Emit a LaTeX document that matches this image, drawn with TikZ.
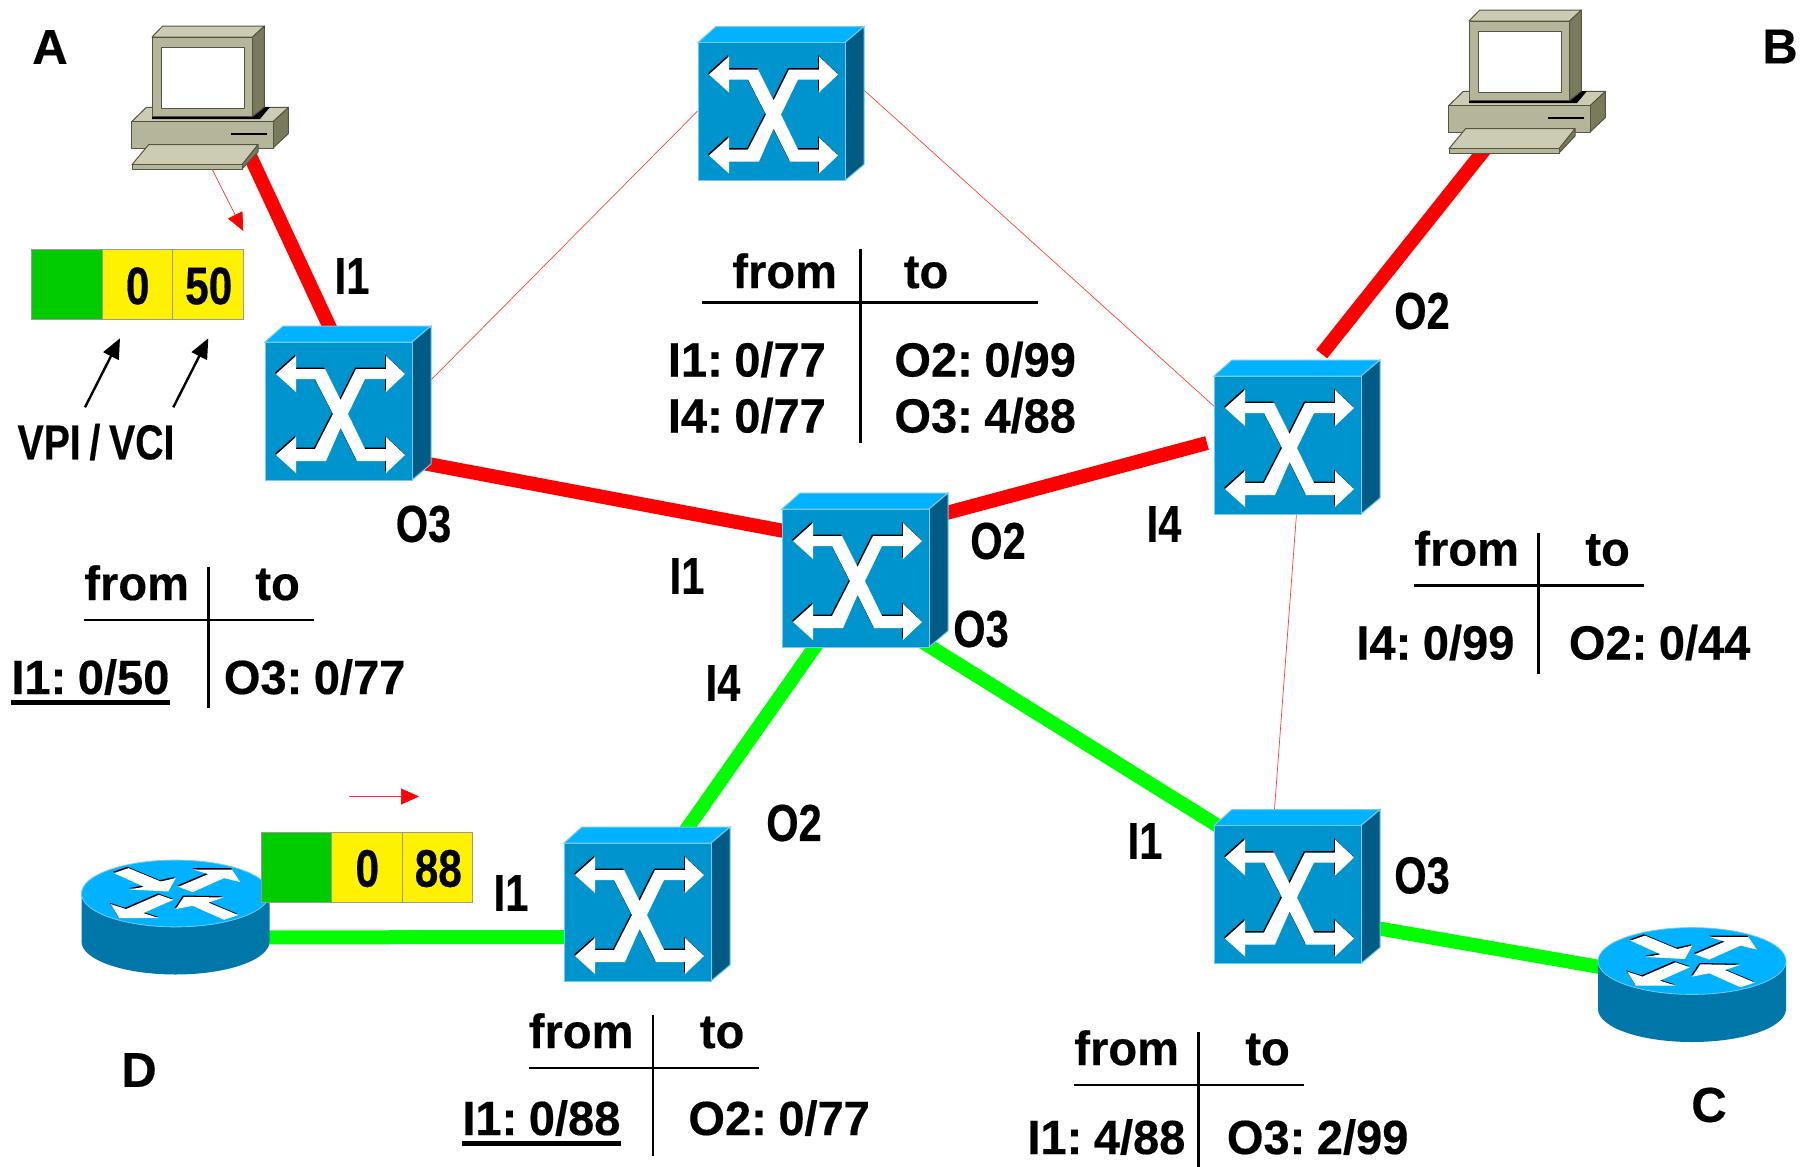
\documentclass[tikz,border=0pt]{standalone}
\usepackage{fontspec}
\usetikzlibrary{backgrounds,arrows.meta}
\setmainfont{Liberation Sans}[BoldFont={Liberation Sans Bold}]
\newfontfamily\tblfont[FakeStretch=0.98,WordSpace=0.55,FakeBold=0.35]{Liberation Sans Bold}
\newfontfamily\portfont[FakeStretch=0.8,WordSpace=0.8,FakeBold=0.35]{Liberation Sans Bold}
\newfontfamily\capfont[FakeBold=0.35]{Liberation Sans Bold}
\definecolor{swfront}{HTML}{0094CE}
\definecolor{swtop}{HTML}{00B2FF}
\definecolor{swside}{HTML}{005C84}
\definecolor{swedge}{HTML}{73CBF0}
\definecolor{rtside}{HTML}{0077A8}
\definecolor{pcface}{HTML}{B5B59C}
\definecolor{pctop}{HTML}{CCCCB5}
\definecolor{pcside}{HTML}{7A7A5C}
\definecolor{pcedge}{HTML}{55553F}
\definecolor{hdrgreen}{HTML}{00CC00}
\tikzset{
  x=0.5pt,y=-0.5pt,
  redlink/.style={draw=red,line width=7pt},
  greenlink/.style={draw=green,line width=7pt},
  thinlink/.style={draw=red!75,line width=0.35pt},
  smallred/.style={draw=red!80,line width=0.35pt,-{Triangle[length=9pt,width=8pt,color=red,fill=red]}},
  blackarrow/.style={draw=black,line width=1.2pt,-{Triangle[length=10pt,width=8.5pt]}},
  tbl/.style={font=\tblfont\fontsize{24}{26}\selectfont,inner sep=0pt,anchor=base west,text=black},
  port/.style={font=\portfont\fontsize{26}{28}\selectfont,inner sep=0pt,text=black},
  captionlabel/.style={font=\capfont\fontsize{24.5}{26}\selectfont,inner sep=0pt,text=black},
  tablerule/.style={draw=black,line width=1.4pt},
  ulrule/.style={draw=black,line width=2.5pt},
  cellbox/.style={draw=black!40,line width=0.4pt},
}
\newcommand{\swoutline}{(11,32)--(31,14)--(31,27)--(60,27)--(75.5,58)--(91,27)--(121,27)--(121,14)--(140,32)--(121,50)--(121,37)--(100,37)--(83,72)--(100,107)--(121,107)--(121,95)--(140,113)--(121,131)--(121,119)--(92,119)--(75.5,86)--(61,119)--(31,119)--(31,131)--(11,113)--(31,95)--(31,107)--(50,107)--(68,72)--(50,37)--(31,37)--(31,50)--cycle}
\newcommand{\swicon}[3]{%
  \node[inner sep=0pt,minimum width=83pt,minimum height=77pt] (#1) at (#2+83,#3+61) {};
  \begin{scope}[shift={(#2,#3)}]
    \fill[swtop,draw=swedge,line width=0.5pt] (0,0)--(18,-16)--(166,-16)--(147,0)--cycle;
    \fill[swside,draw=swedge,line width=0.5pt] (147,0)--(166,-16)--(166,122)--(147,138)--cycle;
    \fill[swfront,draw=swedge,line width=0.5pt] (0,0) rectangle (147,138);
    \begin{scope}[shift={(-1,-1.3)}]
      \fill[black] \swoutline;
    \end{scope}
    \fill[white] \swoutline;
  \end{scope}}
\newcommand{\rtarrows}{%
  (-61.5,-20.4)--(-47,-25.4)--(-14.8,-12)--(0.2,-15.4)--(-7.2,-2)--(-46,-4)--(-31.5,-6.7)--cycle
  (17.8,-24)--(56.5,-24)--(64.8,-11.4)--(48.5,-15.4)--(17.2,-1.4)--(2.8,-6.7)--(32.8,-19.4)--cycle
  (-64.8,10.6)--(-49.5,15.6)--(-16.5,1.3)--(-2.2,6.3)--(-32.2,19.6)--(-16.5,24.6)--(-56.2,24.6)--cycle
  (0.2,15.6)--(8.5,3.3)--(47.8,4)--(32.8,9)--(62.8,21.6)--(48.5,26.3)--(17.2,12.3)--cycle}
\newcommand{\rticon}[3]{%
  \node[inner sep=0pt,minimum width=94pt,minimum height=50pt] (#1) at (#2,#3+25) {};
  \begin{scope}[shift={(#2,#3)}]
    \fill[rtside] (-94,0)--(-94,48) arc[x radius=94,y radius=33,start angle=180,end angle=0]--(94,0)--cycle;
    \fill[swtop,draw=swedge,line width=0.4pt] (0,0) ellipse[x radius=94,y radius=33.4];
    \begin{scope}[shift={(-1,-1.3)}]
      \fill[black] \rtarrows;
    \end{scope}
    \fill[white] \rtarrows;
  \end{scope}}
\newcommand{\pcicon}[3]{%
  \node[inner sep=0pt,minimum width=78pt,minimum height=70pt] (#1) at (#2+60,#3+60) {};
  \begin{scope}[shift={(#2,#3)},line width=0.5pt,line join=round]
    \fill[pcside,draw=pcedge] (121,84.6)--(136.4,70.3)--(136.4,96.6)--(121,111)--cycle;
    \fill[pctop,draw=pcedge] (-20.3,84.6)--(-5.6,70.3)--(136.4,70.3)--(121,84.6)--cycle;
    \fill[pcface,draw=pcedge] (-20.3,84.6) rectangle (121,111);
    \fill[black] (0,79.3)--(100.7,79.3)--(112.4,70)--(118,70)--(108,82)--(0,82)--cycle;
    \fill[pctop,draw=pcedge] (0,0)--(10.7,-11)--(112.4,-11)--(100.7,0)--cycle;
    \fill[pcside,draw=pcedge] (100.7,0)--(112.4,-11)--(112.4,70)--(100.7,79.3)--cycle;
    \fill[pcface,draw=pcedge] (0,0) rectangle (100.7,79.3);
    \fill[white,draw=pcedge] (9,10.3) rectangle (92,71.6);
    \fill[black] (78.7,95.6) rectangle (114.7,98.3);
    \fill[pcside,draw=pcedge] (90,127.6)--(106,107.6)--(106,115)--(90,132)--cycle;
    \fill[pctop,draw=pcedge] (-20,127.6)--(-3.3,107.6)--(106,107.6)--(90,127.6)--cycle;
    \fill[pcface,draw=pcedge] (-20,127.6) rectangle (90,132);
  \end{scope}}
\newcommand{\headercells}[5]{%
  \fill[hdrgreen,cellbox] (#2,#3) rectangle ++(70.5,70);
  \fill[yellow,cellbox] (#2+70.5,#3) rectangle ++(70.5,70);
  \fill[yellow,cellbox] (#2+141,#3) rectangle ++(70.5,70);
  \node[port,font=\portfont\fontsize{26.5}{28}\selectfont] (#1a) at (#2+106,#3+36.5) {#4};
  \node[port,font=\portfont\fontsize{26.5}{28}\selectfont] (#1b) at (#2+177,#3+36.5) {#5};}
% name, dx, dy, left text, left x, right text, right x, row baseline y
\newcommand{\fromto}[8]{%
  \draw[tablerule] (#2+84,#3+620)--(#2+314,#3+620);
  \draw[tablerule] (#2+208.5,#3+567)--(#2+208.5,#3+708);
  \node[tbl] (#1from) at (#2+84,#3+600) {from};
  \node[tbl] (#1to) at (#2+255,#3+600) {to};
  \node[tbl] (#1left) at (#5,#8) {#4};
  \node[tbl] (#1right) at (#7,#8) {#6};}
\begin{document}
\begin{tikzpicture}
\useasboundingbox (0,0) rectangle (1805,1167);
% devices
\pcicon{pcA}{152}{37}
\pcicon{pcB}{1469}{21}
\swicon{swTop}{698}{42.5}
\swicon{swA}{265}{342}
\swicon{swC}{782}{509}
\swicon{swB}{1214}{376}
\swicon{swD}{564}{843}
\swicon{swE}{1214}{825.5}
\rticon{rtD}{175.5}{893.5}
\rticon{rtC}{1692}{961}
% links behind the devices
\begin{scope}[on background layer]
\fill[white] (0,0) rectangle (1805,1167);
\draw[redlink] ([shift={(33,48)}]pcA.center) -- ([shift={(-10,-58)}]swA.center);
\draw[redlink] ([shift={(62,57.6)}]swA.center) -- ([shift={(-65,-36)}]swC.center);
\draw[redlink] ([shift={(65,-52.6)}]swC.center) -- ([shift={(-90,6)}]swB.center);
\draw[redlink] ([shift={(-36,58)}]pcB.center) -- ([shift={(24.7,-83)}]swB.center);
\draw[greenlink] ([shift={(-39,61)}]swC.center) -- ([shift={(32,-64)}]swD.center);
\draw[greenlink] ([shift={(56,71)}]swC.center) -- ([shift={(-62,-50)}]swE.center);
\draw[greenlink] ([shift={(0,19)}]rtD.center) -- ([shift={(-60,33)}]swD.center);
\draw[greenlink] ([shift={(63,38.6)}]swE.center) -- ([shift={(-72,-15.5)}]rtC.center);
\draw[thinlink] ([shift={(77,-17)}]swA.center) -- ([shift={(-83.5,7.6)}]swTop.center);
\draw[thinlink] ([shift={(79,-17)}]swTop.center) -- ([shift={(-77,-25.4)}]swB.center);
\draw[thinlink] ([shift={(0,70)}]swB.center) -- ([shift={(-23,-71)}]swE.center);
\end{scope}
% cell headers
\headercells{cellA}{31.7}{249.5}{0}{50}
\headercells{cellD}{261.3}{832}{0}{88}
% small direction arrows
\coordinate (dirAs) at (212,169); \coordinate (dirAe) at (243.3,231);
\coordinate (dirDs) at (349,796.5); \coordinate (dirDe) at (419,796.5);
\draw[smallred] (dirAs) -- (dirAe);
\draw[smallred] (dirDs) -- (dirDe);
% VPI / VCI
\node[port,font=\portfont\fontsize{24.5}{28}\selectfont] (vpi) at (96,442) {VPI / VCI};
\coordinate (vpiS) at (85,407.3); \coordinate (vpiE) at (120,338.3);
\coordinate (vciS) at (173.3,407.3); \coordinate (vciE) at (208.3,338.3);
\draw[blackarrow] (vpiS) -- (vpiE);
\draw[blackarrow] (vciS) -- (vciE);
% tables
\fromto{ta}{0}{0}{I1: 0/50}{11}{O3: 0/77}{223.5}{694}
\draw[ulrule] ([yshift=-4.2pt]taleft.base west) -- ([yshift=-4.2pt]taleft.base east);
\fromto{tb}{1330}{-34.5}{I4: 0/99}{1356}{O2: 0/44}{1568.5}{659.5}
\fromto{td}{444.5}{448}{I1: 0/88}{462}{O2: 0/77}{688}{1135}
\draw[ulrule] ([yshift=-4.2pt]tdleft.base west) -- ([yshift=-4.2pt]tdleft.base east);
\fromto{te}{990}{465}{I1: 4/88}{1027}{O3: 2/99}{1226.5}{1154}
% centre table
\draw[tablerule] (702,302.5)--(1038,302.5);
\draw[tablerule] (860.5,249)--(860.5,443);
\node[tbl] (tcfrom) at (732,288) {from};
\node[tbl] (tcto) at (903.5,288) {to};
\node[tbl] (tcl1) at (667.5,376.5) {I1: 0/77};
\node[tbl] (tcl2) at (667.5,432.5) {I4: 0/77};
\node[tbl] (tcr1) at (894,376.5) {O2: 0/99};
\node[tbl] (tcr2) at (894,432.5) {O3: 4/88};
% port labels
\node[port] (p1) at (352,276) {I1};
\node[port] (p2) at (423.5,524) {O3};
\node[port] (p3) at (687,576) {I1};
\node[port] (p4) at (998,541) {O2};
\node[port] (p5) at (1164,524) {I4};
\node[port] (p6) at (981,629) {O3};
\node[port] (p7) at (723,683) {I4};
\node[port] (p8) at (1422,311) {O2};
\node[port] (p9) at (794,823) {O2};
\node[port] (p10) at (1145,841) {I1};
\node[port] (p11) at (511,893) {I1};
\node[port] (p12) at (1422,875.5) {O3};
% captions
\node[captionlabel] (capA) at (50,47) {A};
\node[captionlabel] (capB) at (1780,46.5) {B};
\node[captionlabel] (capD) at (139,1070) {D};
\node[captionlabel] (capC) at (1709,1105) {C};
\end{tikzpicture}
\end{document}
